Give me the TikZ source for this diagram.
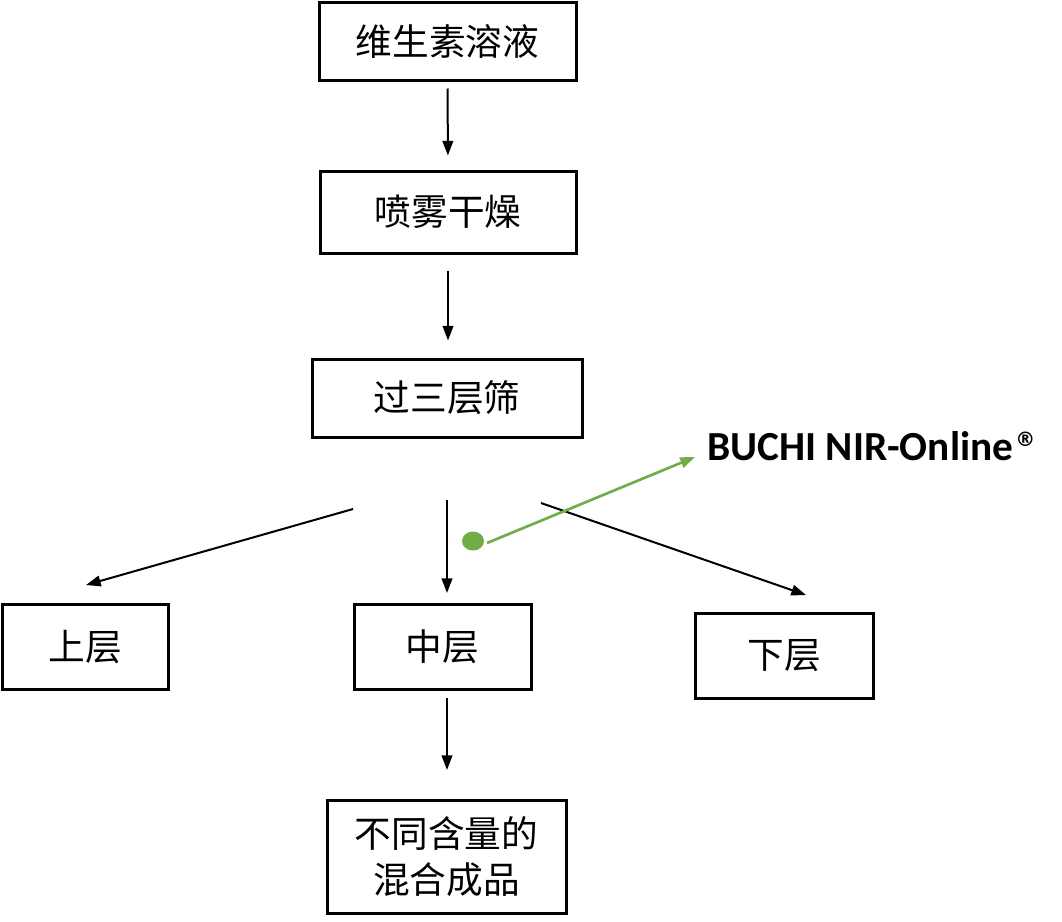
\documentclass[tikz,border=0pt]{standalone}
\usepackage{fontspec}
\newfontfamily\cjk{Noto Sans CJK SC}
\newfontfamily\buchi{Carlito}
\newfontfamily\regmark{DejaVu Sans}
\usetikzlibrary{arrows.meta}
\definecolor{nirgreen}{HTML}{70AD47}
\tikzset{
  box/.style={draw=black, line width=2.25pt, font=\cjk\fontsize{27.5pt}{34pt}\selectfont, align=center, inner sep=0pt},
  flow/.style={draw=black, line width=1.5pt, -{Triangle[length=11pt,width=8pt]}},
  greenflow/.style={draw=nirgreen, line width=2pt, -{Triangle[length=11pt,width=8pt]}}
}
\begin{document}
\begin{tikzpicture}[x=0.75pt,y=-0.75pt]
\useasboundingbox (0,0) rectangle (1062,921);
\node[box, minimum width=192.75pt, minimum height=58.5pt] (b1) at (447.5,41) {维生素溶液};
\node[box, minimum width=192pt, minimum height=61.5pt] (b2) at (448,212) {喷雾干燥};
\node[box, minimum width=202.5pt, minimum height=58.5pt] (b3) at (447,398) {过三层筛};
\node[box, minimum width=124.5pt, minimum height=63.75pt] (up) at (85,646.5) {上层};
\node[box, minimum width=132.75pt, minimum height=63.75pt] (mid) at (442.5,646.5) {中层};
\node[box, minimum width=133.5pt, minimum height=63.75pt] (low) at (784,655.5) {下层};
\node[box, minimum width=179.25pt, minimum height=84.75pt] (prod) at (446.5,856.5) {不同含量的\\混合成品};
\node[anchor=base west, inner sep=0pt, font=\buchi\bfseries\fontsize{31pt}{36pt}\selectfont] (nir) at (707,460) {BUCHI NIR-Online\kern1.5pt\raisebox{10.5pt}{\regmark\bfseries\fontsize{15pt}{15pt}\selectfont ®}};
\coordinate (sl) at (353,509);
\coordinate (tl) at (86,585);
\coordinate (sm) at (447,500);
\coordinate (tm) at (447,593);
\coordinate (sr) at (541,503);
\coordinate (tr) at (806,595);
\coordinate (gt) at (695,457);
\path[fill=nirgreen] (473,541) ellipse [x radius=11, y radius=9.5];
\coordinate (gs) at (487,543);
\draw[flow, shorten <=5.25pt, shorten >=10.5pt] (b1.south) -- (b2.north);
\draw[flow, shorten <=12pt, shorten >=12.75pt] (b2.south) -- (b2.south |- b3.north);
\draw[flow] (sl) -- (tl);
\draw[flow] (sm) -- (tm);
\draw[flow] (sr) -- (tr);
\draw[flow, shorten <=6.75pt, shorten >=22.5pt] (447,689) -- (447,800);
\draw[greenflow] (gs) -- (gt);
\end{tikzpicture}
\end{document}
